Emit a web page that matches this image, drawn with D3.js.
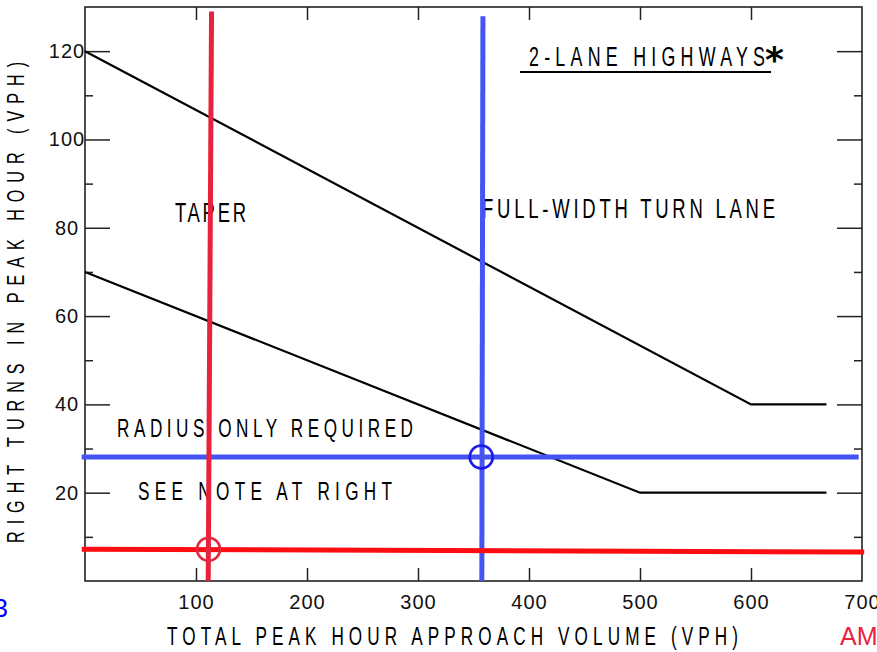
<!DOCTYPE html>
<html>
<head>
<meta charset="utf-8">
<script src="https://cdn.jsdelivr.net/npm/d3@7"></script>
<style>
  body { margin: 0; background: #fff; }
  svg { display: block; }
</style>
</head>
<body>
<div id="chart-area"></div>
<script>
// data
const xTicks = [100, 200, 300, 400, 500, 600, 700]
const xInnerTicks = [100, 200, 300, 400, 500, 600]
const yTicks = [20, 40, 60, 80, 100, 120]
const yMinorTicks = [10, 30, 50, 70, 90, 110]

// boundary curves [volume, right turns]
const upperCurve = [[0, 120], [600, 40], [668, 40]]
const lowerCurve = [[0, 70], [500, 20], [668, 20]]

// hand-drawn reading lines
const redVertical = [[111, 0], [114, 129]]
const redHorizontal = [[-3, 7.2], [702, 6.55]]
const blueVertical = [[357.5, 0], [358.5, 127.9]]
const blueHorizontal = [[-3, 28.1], [697, 28.1]]
const circles = [
  { x: 357, y: 28.1, color: "#1a1aee" },
  { x: 111.3, y: 7.2, color: "#e3283f" }
]

const W = 877, H = 652
const svg = d3.select("#chart-area").append("svg")
  .attr("width", W)
  .attr("height", H)
  .style("font-family", "'Liberation Sans Narrow', 'Liberation Sans', sans-serif")

svg.append("rect").attr("width", W).attr("height", H).attr("fill", "#fff")

const x = d3.scaleLinear().domain([0, 700]).range([85, 862])
const y = d3.scaleLinear().domain([0, 130]).range([581, 7])

// frame
svg.append("rect")
  .attr("x", x(0)).attr("y", y(130))
  .attr("width", x(700) - x(0)).attr("height", y(0) - y(130))
  .attr("fill", "none").attr("stroke", "#222").attr("stroke-width", 1.6)

// ticks, all pointing inward
function styleAxis(g) {
  g.select(".domain").remove()
  g.selectAll(".tick line").attr("stroke", "#222").attr("stroke-width", 1.5)
}

svg.append("g")
  .attr("transform", `translate(${x(0)},0)`)
  .call(d3.axisLeft(y).tickValues(yTicks).tickSizeInner(-25).tickSizeOuter(0).tickPadding(18))
  .call(styleAxis)
  .selectAll("text")
    .attr("text-anchor", "middle")
    .attr("font-family", "'Liberation Sans Narrow', sans-serif")
    .attr("font-size", 20)
    .attr("letter-spacing", 1)
    .attr("fill", "#111")

svg.append("g")
  .attr("transform", `translate(${x(0)},0)`)
  .call(d3.axisLeft(y).tickValues(yMinorTicks).tickSizeInner(-8).tickSizeOuter(0).tickFormat(""))
  .call(styleAxis)

svg.append("g")
  .attr("transform", `translate(${x(700)},0)`)
  .call(d3.axisRight(y).tickValues(yTicks).tickSizeInner(-25).tickSizeOuter(0).tickFormat(""))
  .call(styleAxis)

svg.append("g")
  .attr("transform", `translate(${x(700)},0)`)
  .call(d3.axisRight(y).tickValues(yMinorTicks).tickSizeInner(-8).tickSizeOuter(0).tickFormat(""))
  .call(styleAxis)

svg.append("g")
  .attr("transform", `translate(0,${y(130)})`)
  .call(d3.axisTop(x).tickValues(xInnerTicks).tickSizeInner(-13).tickSizeOuter(0).tickFormat(""))
  .call(styleAxis)

svg.append("g")
  .attr("transform", `translate(0,${y(0)})`)
  .call(d3.axisBottom(x).tickValues(xInnerTicks).tickSizeInner(-13).tickSizeOuter(0).tickFormat(""))
  .call(styleAxis)

// bottom tick labels (700 has no tick mark, only the label)
svg.append("g")
  .attr("transform", `translate(0,${y(0)})`)
  .call(d3.axisBottom(x).tickValues(xTicks).tickSize(0).tickPadding(0))
  .call(g => g.select(".domain").remove())
  .selectAll("text")
    .attr("y", 28)
    .attr("dy", 0)
    .attr("font-family", "'Liberation Sans Narrow', sans-serif")
    .attr("font-size", 20)
    .attr("letter-spacing", 1)
    .attr("fill", "#111")

// the boundary curves
const line = d3.line().x(d => x(d[0])).y(d => y(d[1]))

svg.selectAll(".curve")
  .data([upperCurve, lowerCurve])
  .enter().append("path")
    .attr("class", "curve")
    .attr("d", line)
    .attr("fill", "none")
    .attr("stroke", "#000")
    .attr("stroke-width", 2.2)

// CAD style lettering: narrow glyphs stretched out to the measured width
function cadText(str, left, base, width, size, sx = 0.66, rot = 0) {
  const t = `translate(${left},${base})` + (rot ? ` rotate(${rot})` : "") + ` scale(${sx},1)`
  return svg.append("text")
    .attr("transform", t)
    .attr("font-family", "'Liberation Sans Narrow', sans-serif")
    .attr("font-size", size)
    .attr("fill", "#000")
    .attr("textLength", width / sx)
    .attr("lengthAdjust", "spacing")
    .text(str)
}

cadText("TAPER", 175, 222, 71, 28)
cadText("FULL-WIDTH TURN LANE", 482, 218, 293, 28)
cadText("RADIUS ONLY REQUIRED", 117, 437, 296, 26)
cadText("SEE NOTE AT RIGHT", 138, 500, 254, 26)
cadText("2-LANE HIGHWAYS", 529, 66, 236, 27)
cadText("TOTAL PEAK HOUR APPROACH VOLUME (VPH)", 167, 645, 571, 26)
cadText("RIGHT TURNS IN PEAK HOUR (VPH)", 24, 543, 481, 23, 0.7, -90)

svg.append("text")
  .attr("x", 765).attr("y", 72)
  .attr("font-family", "'DejaVu Sans', sans-serif")
  .attr("font-weight", "bold")
  .attr("font-size", 36)
  .attr("fill", "#000")
  .text("*")

svg.append("line")
  .attr("x1", 520).attr("x2", 771)
  .attr("y1", 72).attr("y2", 72)
  .attr("stroke", "#000").attr("stroke-width", 2)

// cut-off margin text
svg.append("text")
  .attr("x", 8).attr("y", 617)
  .attr("text-anchor", "end")
  .attr("font-family", "'Liberation Sans', sans-serif")
  .attr("font-size", 26)
  .attr("fill", "#0000ff")
  .text("3")

svg.append("text")
  .attr("x", 840).attr("y", 645)
  .attr("font-family", "'Liberation Sans', sans-serif")
  .attr("font-size", 25)
  .attr("fill", "#e8223f")
  .text("AM")

// reading lines
const blue = "#4455f3"
svg.append("path").attr("d", line(blueVertical))
  .attr("stroke", blue).attr("stroke-width", 5).attr("fill", "none")
svg.append("path").attr("d", line(blueHorizontal))
  .attr("stroke", blue).attr("stroke-width", 5).attr("fill", "none")
svg.append("path").attr("d", line(redHorizontal))
  .attr("stroke", "#fb0d12").attr("stroke-width", 5).attr("fill", "none")
svg.append("path").attr("d", line(redVertical))
  .attr("stroke", "#e8213c").attr("stroke-width", 5).attr("fill", "none")

svg.selectAll(".mark")
  .data(circles)
  .enter().append("circle")
    .attr("class", "mark")
    .attr("cx", d => x(d.x))
    .attr("cy", d => y(d.y))
    .attr("r", 11.5)
    .attr("fill", "none")
    .attr("stroke", d => d.color)
    .attr("stroke-width", 2.6)
</script>
</body>
</html>
